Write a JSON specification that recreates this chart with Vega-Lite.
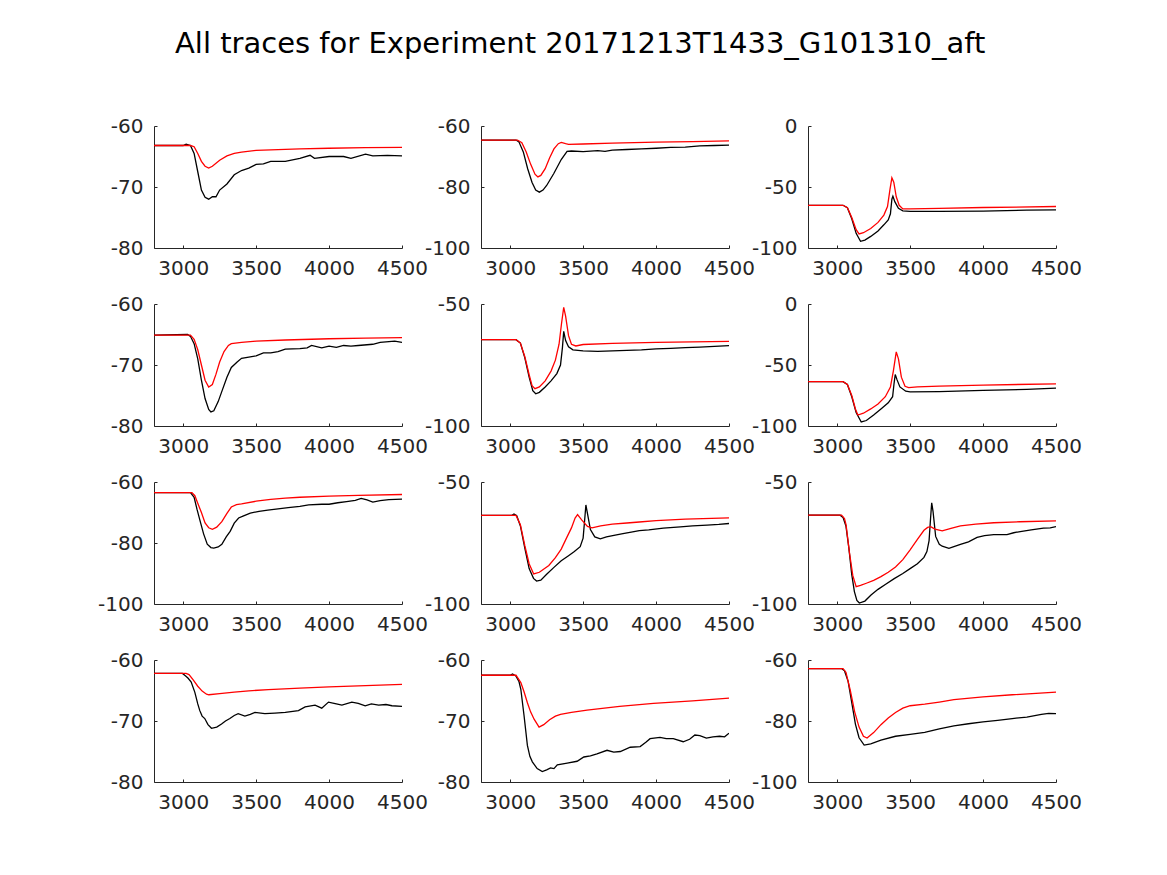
{
"$schema":"https://vega.github.io/schema/vega-lite/v6.json",
"background":"white",
"padding":{"left":97,"top":30,"right":5,"bottom":5},
"title":{"text":"All traces for Experiment 20171213T1433_G101310_aft","fontSize":29,"font":"DejaVu Sans","fontWeight":"normal","anchor":"start","frame":"group","dx":21,"offset":57,"color":"black"},
"columns":3,
"spacing":{"row":56,"column":79},
"bounds":"flush",
"data":{"values":[
{"p":1,"s":"e","x":2800,"y":-63.2},{"p":1,"s":"e","x":3000,"y":-63.2},{"p":1,"s":"e","x":3020,"y":-63.0},{"p":1,"s":"e","x":3050,"y":-63.2},{"p":1,"s":"e","x":3075,"y":-64.5},{"p":1,"s":"e","x":3100,"y":-67.5},{"p":1,"s":"e","x":3125,"y":-70.5},{"p":1,"s":"e","x":3150,"y":-71.7},{"p":1,"s":"e","x":3175,"y":-72.0},{"p":1,"s":"e","x":3200,"y":-71.6},{"p":1,"s":"e","x":3225,"y":-71.6},{"p":1,"s":"e","x":3250,"y":-70.5},{"p":1,"s":"e","x":3300,"y":-69.5},{"p":1,"s":"e","x":3350,"y":-68.0},{"p":1,"s":"e","x":3400,"y":-67.3},{"p":1,"s":"e","x":3450,"y":-66.9},{"p":1,"s":"e","x":3500,"y":-66.3},{"p":1,"s":"e","x":3550,"y":-66.2},{"p":1,"s":"e","x":3600,"y":-65.8},{"p":1,"s":"e","x":3700,"y":-65.8},{"p":1,"s":"e","x":3800,"y":-65.3},{"p":1,"s":"e","x":3870,"y":-64.8},{"p":1,"s":"e","x":3900,"y":-65.3},{"p":1,"s":"e","x":4000,"y":-65.0},{"p":1,"s":"e","x":4100,"y":-65.0},{"p":1,"s":"e","x":4150,"y":-65.3},{"p":1,"s":"e","x":4250,"y":-64.6},{"p":1,"s":"e","x":4300,"y":-64.9},{"p":1,"s":"e","x":4400,"y":-64.8},{"p":1,"s":"e","x":4500,"y":-64.9},
{"p":1,"s":"m","x":2800,"y":-63.2},{"p":1,"s":"m","x":3050,"y":-63.2},{"p":1,"s":"m","x":3075,"y":-63.4},{"p":1,"s":"m","x":3100,"y":-64.5},{"p":1,"s":"m","x":3125,"y":-65.8},{"p":1,"s":"m","x":3150,"y":-66.6},{"p":1,"s":"m","x":3175,"y":-66.9},{"p":1,"s":"m","x":3200,"y":-66.6},{"p":1,"s":"m","x":3250,"y":-65.6},{"p":1,"s":"m","x":3300,"y":-64.9},{"p":1,"s":"m","x":3350,"y":-64.5},{"p":1,"s":"m","x":3400,"y":-64.3},{"p":1,"s":"m","x":3500,"y":-64.0},{"p":1,"s":"m","x":3600,"y":-63.9},{"p":1,"s":"m","x":3800,"y":-63.75},{"p":1,"s":"m","x":4000,"y":-63.65},{"p":1,"s":"m","x":4250,"y":-63.55},{"p":1,"s":"m","x":4500,"y":-63.5},
{"p":2,"s":"e","x":2800,"y":-64.6},{"p":2,"s":"e","x":3040,"y":-64.6},{"p":2,"s":"e","x":3060,"y":-65.2},{"p":2,"s":"e","x":3090,"y":-68.5},{"p":2,"s":"e","x":3120,"y":-74},{"p":2,"s":"e","x":3150,"y":-78.5},{"p":2,"s":"e","x":3175,"y":-81},{"p":2,"s":"e","x":3200,"y":-81.7},{"p":2,"s":"e","x":3225,"y":-81.0},{"p":2,"s":"e","x":3250,"y":-79.5},{"p":2,"s":"e","x":3300,"y":-75.5},{"p":2,"s":"e","x":3350,"y":-71},{"p":2,"s":"e","x":3390,"y":-68.3},{"p":2,"s":"e","x":3420,"y":-68.2},{"p":2,"s":"e","x":3500,"y":-68.4},{"p":2,"s":"e","x":3600,"y":-68.1},{"p":2,"s":"e","x":3650,"y":-68.3},{"p":2,"s":"e","x":3700,"y":-67.9},{"p":2,"s":"e","x":3800,"y":-67.7},{"p":2,"s":"e","x":3900,"y":-67.5},{"p":2,"s":"e","x":4000,"y":-67.3},{"p":2,"s":"e","x":4100,"y":-67.0},{"p":2,"s":"e","x":4200,"y":-66.9},{"p":2,"s":"e","x":4300,"y":-66.5},{"p":2,"s":"e","x":4400,"y":-66.4},{"p":2,"s":"e","x":4500,"y":-66.3},
{"p":2,"s":"m","x":2800,"y":-64.6},{"p":2,"s":"m","x":3050,"y":-64.6},{"p":2,"s":"m","x":3080,"y":-65.5},{"p":2,"s":"m","x":3110,"y":-68.5},{"p":2,"s":"m","x":3140,"y":-72.5},{"p":2,"s":"m","x":3170,"y":-75.8},{"p":2,"s":"m","x":3190,"y":-76.7},{"p":2,"s":"m","x":3210,"y":-76.2},{"p":2,"s":"m","x":3240,"y":-74},{"p":2,"s":"m","x":3270,"y":-70.5},{"p":2,"s":"m","x":3300,"y":-67.5},{"p":2,"s":"m","x":3330,"y":-65.8},{"p":2,"s":"m","x":3350,"y":-65.4},{"p":2,"s":"m","x":3380,"y":-65.8},{"p":2,"s":"m","x":3400,"y":-66.0},{"p":2,"s":"m","x":3500,"y":-65.9},{"p":2,"s":"m","x":3700,"y":-65.6},{"p":2,"s":"m","x":4000,"y":-65.3},{"p":2,"s":"m","x":4250,"y":-65.1},{"p":2,"s":"m","x":4500,"y":-64.9},
{"p":3,"s":"e","x":2800,"y":-65},{"p":3,"s":"e","x":3040,"y":-65},{"p":3,"s":"e","x":3070,"y":-67},{"p":3,"s":"e","x":3100,"y":-76},{"p":3,"s":"e","x":3130,"y":-88},{"p":3,"s":"e","x":3160,"y":-94.5},{"p":3,"s":"e","x":3190,"y":-93.5},{"p":3,"s":"e","x":3230,"y":-90.5},{"p":3,"s":"e","x":3280,"y":-86},{"p":3,"s":"e","x":3320,"y":-81},{"p":3,"s":"e","x":3350,"y":-77},{"p":3,"s":"e","x":3365,"y":-72},{"p":3,"s":"e","x":3375,"y":-60},{"p":3,"s":"e","x":3382,"y":-57.5},{"p":3,"s":"e","x":3395,"y":-62},{"p":3,"s":"e","x":3420,"y":-67.5},{"p":3,"s":"e","x":3450,"y":-69.5},{"p":3,"s":"e","x":3500,"y":-70},{"p":3,"s":"e","x":3700,"y":-70},{"p":3,"s":"e","x":4000,"y":-69.8},{"p":3,"s":"e","x":4300,"y":-69},{"p":3,"s":"e","x":4500,"y":-68.8},
{"p":3,"s":"m","x":2800,"y":-65},{"p":3,"s":"m","x":3040,"y":-65},{"p":3,"s":"m","x":3070,"y":-67},{"p":3,"s":"m","x":3100,"y":-75},{"p":3,"s":"m","x":3130,"y":-85},{"p":3,"s":"m","x":3150,"y":-88.5},{"p":3,"s":"m","x":3180,"y":-87.5},{"p":3,"s":"m","x":3230,"y":-84},{"p":3,"s":"m","x":3280,"y":-79},{"p":3,"s":"m","x":3320,"y":-73},{"p":3,"s":"m","x":3345,"y":-66},{"p":3,"s":"m","x":3362,"y":-52},{"p":3,"s":"m","x":3375,"y":-42.5},{"p":3,"s":"m","x":3388,"y":-46},{"p":3,"s":"m","x":3405,"y":-58},{"p":3,"s":"m","x":3425,"y":-65},{"p":3,"s":"m","x":3450,"y":-68},{"p":3,"s":"m","x":3500,"y":-68},{"p":3,"s":"m","x":3700,"y":-67.5},{"p":3,"s":"m","x":4000,"y":-66.8},{"p":3,"s":"m","x":4500,"y":-66},
{"p":4,"s":"e","x":2800,"y":-65.1},{"p":4,"s":"e","x":3030,"y":-65.0},{"p":4,"s":"e","x":3050,"y":-65.3},{"p":4,"s":"e","x":3075,"y":-66.5},{"p":4,"s":"e","x":3100,"y":-69},{"p":4,"s":"e","x":3125,"y":-72.5},{"p":4,"s":"e","x":3150,"y":-75.5},{"p":4,"s":"e","x":3175,"y":-77.3},{"p":4,"s":"e","x":3190,"y":-77.7},{"p":4,"s":"e","x":3210,"y":-77.5},{"p":4,"s":"e","x":3240,"y":-76},{"p":4,"s":"e","x":3270,"y":-74},{"p":4,"s":"e","x":3300,"y":-72},{"p":4,"s":"e","x":3330,"y":-70.4},{"p":4,"s":"e","x":3370,"y":-69.5},{"p":4,"s":"e","x":3400,"y":-68.9},{"p":4,"s":"e","x":3450,"y":-68.7},{"p":4,"s":"e","x":3500,"y":-68.5},{"p":4,"s":"e","x":3550,"y":-68.0},{"p":4,"s":"e","x":3600,"y":-68.0},{"p":4,"s":"e","x":3650,"y":-67.8},{"p":4,"s":"e","x":3700,"y":-67.4},{"p":4,"s":"e","x":3800,"y":-67.3},{"p":4,"s":"e","x":3850,"y":-67.2},{"p":4,"s":"e","x":3880,"y":-66.8},{"p":4,"s":"e","x":3950,"y":-67.2},{"p":4,"s":"e","x":4000,"y":-66.9},{"p":4,"s":"e","x":4050,"y":-67.1},{"p":4,"s":"e","x":4100,"y":-66.8},{"p":4,"s":"e","x":4150,"y":-66.9},{"p":4,"s":"e","x":4200,"y":-66.8},{"p":4,"s":"e","x":4300,"y":-66.6},{"p":4,"s":"e","x":4350,"y":-66.3},{"p":4,"s":"e","x":4450,"y":-66.1},{"p":4,"s":"e","x":4500,"y":-66.3},
{"p":4,"s":"m","x":2800,"y":-65.1},{"p":4,"s":"m","x":3050,"y":-65.1},{"p":4,"s":"m","x":3075,"y":-65.8},{"p":4,"s":"m","x":3100,"y":-67.5},{"p":4,"s":"m","x":3125,"y":-70},{"p":4,"s":"m","x":3150,"y":-72.5},{"p":4,"s":"m","x":3175,"y":-73.6},{"p":4,"s":"m","x":3200,"y":-73.2},{"p":4,"s":"m","x":3225,"y":-71.5},{"p":4,"s":"m","x":3250,"y":-69.5},{"p":4,"s":"m","x":3280,"y":-67.8},{"p":4,"s":"m","x":3310,"y":-66.8},{"p":4,"s":"m","x":3330,"y":-66.5},{"p":4,"s":"m","x":3400,"y":-66.3},{"p":4,"s":"m","x":3500,"y":-66.1},{"p":4,"s":"m","x":3700,"y":-65.9},{"p":4,"s":"m","x":4000,"y":-65.7},{"p":4,"s":"m","x":4250,"y":-65.6},{"p":4,"s":"m","x":4500,"y":-65.5},
{"p":5,"s":"e","x":2800,"y":-64.6},{"p":5,"s":"e","x":3040,"y":-64.6},{"p":5,"s":"e","x":3070,"y":-66},{"p":5,"s":"e","x":3100,"y":-72},{"p":5,"s":"e","x":3130,"y":-80},{"p":5,"s":"e","x":3155,"y":-85.5},{"p":5,"s":"e","x":3175,"y":-86.8},{"p":5,"s":"e","x":3200,"y":-86.2},{"p":5,"s":"e","x":3240,"y":-84},{"p":5,"s":"e","x":3280,"y":-81.5},{"p":5,"s":"e","x":3320,"y":-78.5},{"p":5,"s":"e","x":3345,"y":-75},{"p":5,"s":"e","x":3358,"y":-68},{"p":5,"s":"e","x":3367,"y":-61.2},{"p":5,"s":"e","x":3380,"y":-65},{"p":5,"s":"e","x":3400,"y":-67.5},{"p":5,"s":"e","x":3430,"y":-68.8},{"p":5,"s":"e","x":3500,"y":-69.2},{"p":5,"s":"e","x":3600,"y":-69.4},{"p":5,"s":"e","x":3700,"y":-69.2},{"p":5,"s":"e","x":3800,"y":-69.0},{"p":5,"s":"e","x":3900,"y":-68.8},{"p":5,"s":"e","x":4000,"y":-68.4},{"p":5,"s":"e","x":4100,"y":-68.2},{"p":5,"s":"e","x":4200,"y":-67.9},{"p":5,"s":"e","x":4300,"y":-67.7},{"p":5,"s":"e","x":4400,"y":-67.4},{"p":5,"s":"e","x":4500,"y":-67.1},
{"p":5,"s":"m","x":2800,"y":-64.6},{"p":5,"s":"m","x":3040,"y":-64.6},{"p":5,"s":"m","x":3070,"y":-66},{"p":5,"s":"m","x":3100,"y":-71.5},{"p":5,"s":"m","x":3130,"y":-79},{"p":5,"s":"m","x":3150,"y":-83.5},{"p":5,"s":"m","x":3170,"y":-84.7},{"p":5,"s":"m","x":3200,"y":-84},{"p":5,"s":"m","x":3240,"y":-81.5},{"p":5,"s":"m","x":3280,"y":-77.5},{"p":5,"s":"m","x":3310,"y":-73},{"p":5,"s":"m","x":3335,"y":-66.5},{"p":5,"s":"m","x":3352,"y":-58},{"p":5,"s":"m","x":3367,"y":-51.4},{"p":5,"s":"m","x":3380,"y":-55},{"p":5,"s":"m","x":3400,"y":-63},{"p":5,"s":"m","x":3420,"y":-66.5},{"p":5,"s":"m","x":3450,"y":-67.2},{"p":5,"s":"m","x":3500,"y":-66.6},{"p":5,"s":"m","x":3700,"y":-66.1},{"p":5,"s":"m","x":4000,"y":-65.7},{"p":5,"s":"m","x":4250,"y":-65.5},{"p":5,"s":"m","x":4500,"y":-65.3},
{"p":6,"s":"e","x":2800,"y":-63.7},{"p":6,"s":"e","x":3040,"y":-63.7},{"p":6,"s":"e","x":3070,"y":-66},{"p":6,"s":"e","x":3100,"y":-76},{"p":6,"s":"e","x":3130,"y":-89},{"p":6,"s":"e","x":3165,"y":-96.7},{"p":6,"s":"e","x":3200,"y":-95.5},{"p":6,"s":"e","x":3250,"y":-91},{"p":6,"s":"e","x":3300,"y":-86},{"p":6,"s":"e","x":3350,"y":-81},{"p":6,"s":"e","x":3380,"y":-76},{"p":6,"s":"e","x":3390,"y":-65},{"p":6,"s":"e","x":3398,"y":-57.8},{"p":6,"s":"e","x":3410,"y":-62},{"p":6,"s":"e","x":3430,"y":-68},{"p":6,"s":"e","x":3470,"y":-71.5},{"p":6,"s":"e","x":3500,"y":-72},{"p":6,"s":"e","x":3700,"y":-71.8},{"p":6,"s":"e","x":4000,"y":-70.8},{"p":6,"s":"e","x":4300,"y":-70},{"p":6,"s":"e","x":4500,"y":-69},
{"p":6,"s":"m","x":2800,"y":-63.7},{"p":6,"s":"m","x":3040,"y":-63.7},{"p":6,"s":"m","x":3070,"y":-66},{"p":6,"s":"m","x":3100,"y":-75},{"p":6,"s":"m","x":3125,"y":-86},{"p":6,"s":"m","x":3142,"y":-91},{"p":6,"s":"m","x":3180,"y":-89.5},{"p":6,"s":"m","x":3230,"y":-86},{"p":6,"s":"m","x":3280,"y":-82},{"p":6,"s":"m","x":3330,"y":-76},{"p":6,"s":"m","x":3365,"y":-68},{"p":6,"s":"m","x":3385,"y":-55},{"p":6,"s":"m","x":3405,"y":-39.2},{"p":6,"s":"m","x":3420,"y":-45},{"p":6,"s":"m","x":3440,"y":-60},{"p":6,"s":"m","x":3465,"y":-67.5},{"p":6,"s":"m","x":3490,"y":-68.6},{"p":6,"s":"m","x":3550,"y":-68},{"p":6,"s":"m","x":3700,"y":-67.3},{"p":6,"s":"m","x":4000,"y":-66.5},{"p":6,"s":"m","x":4500,"y":-65.4},
{"p":7,"s":"e","x":2800,"y":-63.5},{"p":7,"s":"e","x":3050,"y":-63.5},{"p":7,"s":"e","x":3075,"y":-65},{"p":7,"s":"e","x":3095,"y":-69},{"p":7,"s":"e","x":3120,"y":-73.5},{"p":7,"s":"e","x":3140,"y":-77},{"p":7,"s":"e","x":3165,"y":-80.4},{"p":7,"s":"e","x":3190,"y":-81.5},{"p":7,"s":"e","x":3210,"y":-81.7},{"p":7,"s":"e","x":3240,"y":-81.3},{"p":7,"s":"e","x":3265,"y":-80.4},{"p":7,"s":"e","x":3295,"y":-78},{"p":7,"s":"e","x":3322,"y":-76.2},{"p":7,"s":"e","x":3350,"y":-73.5},{"p":7,"s":"e","x":3380,"y":-71.8},{"p":7,"s":"e","x":3410,"y":-71.2},{"p":7,"s":"e","x":3460,"y":-70.2},{"p":7,"s":"e","x":3520,"y":-69.6},{"p":7,"s":"e","x":3580,"y":-69.2},{"p":7,"s":"e","x":3650,"y":-68.8},{"p":7,"s":"e","x":3720,"y":-68.4},{"p":7,"s":"e","x":3800,"y":-68.0},{"p":7,"s":"e","x":3860,"y":-67.5},{"p":7,"s":"e","x":3950,"y":-67.3},{"p":7,"s":"e","x":4000,"y":-67.3},{"p":7,"s":"e","x":4060,"y":-66.8},{"p":7,"s":"e","x":4120,"y":-66.4},{"p":7,"s":"e","x":4180,"y":-66.0},{"p":7,"s":"e","x":4220,"y":-65.4},{"p":7,"s":"e","x":4260,"y":-65.9},{"p":7,"s":"e","x":4300,"y":-66.6},{"p":7,"s":"e","x":4350,"y":-66.1},{"p":7,"s":"e","x":4410,"y":-65.8},{"p":7,"s":"e","x":4500,"y":-65.6},
{"p":7,"s":"m","x":2800,"y":-63.5},{"p":7,"s":"m","x":3060,"y":-63.5},{"p":7,"s":"m","x":3080,"y":-64.5},{"p":7,"s":"m","x":3100,"y":-67},{"p":7,"s":"m","x":3125,"y":-70},{"p":7,"s":"m","x":3150,"y":-73.4},{"p":7,"s":"m","x":3175,"y":-75},{"p":7,"s":"m","x":3200,"y":-75.5},{"p":7,"s":"m","x":3230,"y":-74.8},{"p":7,"s":"m","x":3265,"y":-73},{"p":7,"s":"m","x":3300,"y":-70.3},{"p":7,"s":"m","x":3330,"y":-68.2},{"p":7,"s":"m","x":3365,"y":-67.4},{"p":7,"s":"m","x":3400,"y":-67.2},{"p":7,"s":"m","x":3500,"y":-66.3},{"p":7,"s":"m","x":3600,"y":-65.7},{"p":7,"s":"m","x":3700,"y":-65.3},{"p":7,"s":"m","x":3800,"y":-65},{"p":7,"s":"m","x":4000,"y":-64.6},{"p":7,"s":"m","x":4200,"y":-64.4},{"p":7,"s":"m","x":4500,"y":-64.1},
{"p":8,"s":"e","x":2800,"y":-63.7},{"p":8,"s":"e","x":3010,"y":-63.7},{"p":8,"s":"e","x":3026,"y":-63.1},{"p":8,"s":"e","x":3045,"y":-63.8},{"p":8,"s":"e","x":3070,"y":-68},{"p":8,"s":"e","x":3100,"y":-77},{"p":8,"s":"e","x":3130,"y":-85.5},{"p":8,"s":"e","x":3160,"y":-89.5},{"p":8,"s":"e","x":3181,"y":-90.6},{"p":8,"s":"e","x":3210,"y":-90.2},{"p":8,"s":"e","x":3250,"y":-87.8},{"p":8,"s":"e","x":3300,"y":-85},{"p":8,"s":"e","x":3350,"y":-82.3},{"p":8,"s":"e","x":3400,"y":-80.2},{"p":8,"s":"e","x":3440,"y":-78.5},{"p":8,"s":"e","x":3480,"y":-76.5},{"p":8,"s":"e","x":3500,"y":-73},{"p":8,"s":"e","x":3510,"y":-66},{"p":8,"s":"e","x":3519,"y":-59.4},{"p":8,"s":"e","x":3530,"y":-63},{"p":8,"s":"e","x":3550,"y":-69.5},{"p":8,"s":"e","x":3580,"y":-72.5},{"p":8,"s":"e","x":3618,"y":-73.3},{"p":8,"s":"e","x":3660,"y":-72.5},{"p":8,"s":"e","x":3720,"y":-71.8},{"p":8,"s":"e","x":3773,"y":-71.2},{"p":8,"s":"e","x":3830,"y":-70.5},{"p":8,"s":"e","x":3885,"y":-69.9},{"p":8,"s":"e","x":3950,"y":-69.6},{"p":8,"s":"e","x":4050,"y":-68.9},{"p":8,"s":"e","x":4167,"y":-68.4},{"p":8,"s":"e","x":4250,"y":-68.0},{"p":8,"s":"e","x":4350,"y":-67.7},{"p":8,"s":"e","x":4430,"y":-67.4},{"p":8,"s":"e","x":4500,"y":-67},
{"p":8,"s":"m","x":2800,"y":-63.7},{"p":8,"s":"m","x":3040,"y":-63.7},{"p":8,"s":"m","x":3070,"y":-67.5},{"p":8,"s":"m","x":3100,"y":-76},{"p":8,"s":"m","x":3130,"y":-83.5},{"p":8,"s":"m","x":3161,"y":-87.7},{"p":8,"s":"m","x":3200,"y":-87},{"p":8,"s":"m","x":3265,"y":-84.2},{"p":8,"s":"m","x":3310,"y":-81},{"p":8,"s":"m","x":3350,"y":-77.5},{"p":8,"s":"m","x":3390,"y":-72.5},{"p":8,"s":"m","x":3420,"y":-68.8},{"p":8,"s":"m","x":3445,"y":-64.8},{"p":8,"s":"m","x":3462,"y":-63.4},{"p":8,"s":"m","x":3490,"y":-65.5},{"p":8,"s":"m","x":3530,"y":-68.2},{"p":8,"s":"m","x":3561,"y":-68.8},{"p":8,"s":"m","x":3620,"y":-68},{"p":8,"s":"m","x":3700,"y":-67.3},{"p":8,"s":"m","x":3800,"y":-66.8},{"p":8,"s":"m","x":3885,"y":-66.4},{"p":8,"s":"m","x":4000,"y":-65.8},{"p":8,"s":"m","x":4200,"y":-65.2},{"p":8,"s":"m","x":4500,"y":-64.7},
{"p":9,"s":"e","x":2800,"y":-63.6},{"p":9,"s":"e","x":3020,"y":-63.6},{"p":9,"s":"e","x":3040,"y":-64.5},{"p":9,"s":"e","x":3060,"y":-68},{"p":9,"s":"e","x":3080,"y":-77},{"p":9,"s":"e","x":3100,"y":-88},{"p":9,"s":"e","x":3118,"y":-94.9},{"p":9,"s":"e","x":3135,"y":-98.5},{"p":9,"s":"e","x":3152,"y":-99.6},{"p":9,"s":"e","x":3190,"y":-98.8},{"p":9,"s":"e","x":3232,"y":-96.3},{"p":9,"s":"e","x":3280,"y":-94},{"p":9,"s":"e","x":3330,"y":-92},{"p":9,"s":"e","x":3391,"y":-89.6},{"p":9,"s":"e","x":3450,"y":-87.5},{"p":9,"s":"e","x":3505,"y":-85.3},{"p":9,"s":"e","x":3550,"y":-83.5},{"p":9,"s":"e","x":3595,"y":-80.9},{"p":9,"s":"e","x":3615,"y":-78.5},{"p":9,"s":"e","x":3630,"y":-74},{"p":9,"s":"e","x":3640,"y":-65},{"p":9,"s":"e","x":3648,"y":-58.5},{"p":9,"s":"e","x":3657,"y":-62},{"p":9,"s":"e","x":3675,"y":-72.3},{"p":9,"s":"e","x":3700,"y":-75.5},{"p":9,"s":"e","x":3720,"y":-76.3},{"p":9,"s":"e","x":3766,"y":-77.2},{"p":9,"s":"e","x":3800,"y":-76.5},{"p":9,"s":"e","x":3845,"y":-75.6},{"p":9,"s":"e","x":3900,"y":-74.5},{"p":9,"s":"e","x":3959,"y":-72.7},{"p":9,"s":"e","x":4010,"y":-72.0},{"p":9,"s":"e","x":4073,"y":-71.6},{"p":9,"s":"e","x":4164,"y":-71.6},{"p":9,"s":"e","x":4210,"y":-70.8},{"p":9,"s":"e","x":4255,"y":-70.3},{"p":9,"s":"e","x":4330,"y":-69.6},{"p":9,"s":"e","x":4414,"y":-68.9},{"p":9,"s":"e","x":4460,"y":-68.8},{"p":9,"s":"e","x":4500,"y":-68.3},
{"p":9,"s":"m","x":2800,"y":-63.6},{"p":9,"s":"m","x":3030,"y":-63.6},{"p":9,"s":"m","x":3050,"y":-65},{"p":9,"s":"m","x":3061,"y":-67.6},{"p":9,"s":"m","x":3084,"y":-78.9},{"p":9,"s":"m","x":3107,"y":-88.3},{"p":9,"s":"m","x":3130,"y":-92.9},{"p":9,"s":"m","x":3160,"y":-92.4},{"p":9,"s":"m","x":3200,"y":-91.5},{"p":9,"s":"m","x":3250,"y":-90.3},{"p":9,"s":"m","x":3300,"y":-88.8},{"p":9,"s":"m","x":3350,"y":-87},{"p":9,"s":"m","x":3400,"y":-84.8},{"p":9,"s":"m","x":3450,"y":-81.8},{"p":9,"s":"m","x":3500,"y":-77.8},{"p":9,"s":"m","x":3550,"y":-73.5},{"p":9,"s":"m","x":3595,"y":-69.8},{"p":9,"s":"m","x":3620,"y":-68.6},{"p":9,"s":"m","x":3641,"y":-68.3},{"p":9,"s":"m","x":3670,"y":-69.3},{"p":9,"s":"m","x":3720,"y":-70},{"p":9,"s":"m","x":3780,"y":-69},{"p":9,"s":"m","x":3845,"y":-68},{"p":9,"s":"m","x":3950,"y":-67.3},{"p":9,"s":"m","x":4073,"y":-66.7},{"p":9,"s":"m","x":4250,"y":-66.3},{"p":9,"s":"m","x":4500,"y":-65.9},
{"p":10,"s":"e","x":2800,"y":-62.2},{"p":10,"s":"e","x":2995,"y":-62.2},{"p":10,"s":"e","x":3015,"y":-62.6},{"p":10,"s":"e","x":3034,"y":-63.0},{"p":10,"s":"e","x":3055,"y":-63.6},{"p":10,"s":"e","x":3080,"y":-65.3},{"p":10,"s":"e","x":3100,"y":-67.2},{"p":10,"s":"e","x":3114,"y":-68.3},{"p":10,"s":"e","x":3130,"y":-69.2},{"p":10,"s":"e","x":3148,"y":-69.6},{"p":10,"s":"e","x":3170,"y":-70.6},{"p":10,"s":"e","x":3194,"y":-71.2},{"p":10,"s":"e","x":3230,"y":-71.0},{"p":10,"s":"e","x":3263,"y":-70.5},{"p":10,"s":"e","x":3290,"y":-70.0},{"p":10,"s":"e","x":3320,"y":-69.6},{"p":10,"s":"e","x":3350,"y":-69.1},{"p":10,"s":"e","x":3377,"y":-68.8},{"p":10,"s":"e","x":3423,"y":-69.2},{"p":10,"s":"e","x":3460,"y":-68.9},{"p":10,"s":"e","x":3492,"y":-68.6},{"p":10,"s":"e","x":3560,"y":-68.8},{"p":10,"s":"e","x":3629,"y":-68.7},{"p":10,"s":"e","x":3700,"y":-68.6},{"p":10,"s":"e","x":3790,"y":-68.3},{"p":10,"s":"e","x":3836,"y":-67.7},{"p":10,"s":"e","x":3904,"y":-67.4},{"p":10,"s":"e","x":3950,"y":-67.9},{"p":10,"s":"e","x":3996,"y":-66.9},{"p":10,"s":"e","x":4050,"y":-67.2},{"p":10,"s":"e","x":4088,"y":-67.4},{"p":10,"s":"e","x":4156,"y":-66.9},{"p":10,"s":"e","x":4200,"y":-67.1},{"p":10,"s":"e","x":4248,"y":-67.5},{"p":10,"s":"e","x":4290,"y":-67.2},{"p":10,"s":"e","x":4340,"y":-67.4},{"p":10,"s":"e","x":4390,"y":-67.3},{"p":10,"s":"e","x":4431,"y":-67.5},{"p":10,"s":"e","x":4500,"y":-67.6},
{"p":10,"s":"m","x":2800,"y":-62.2},{"p":10,"s":"m","x":3020,"y":-62.2},{"p":10,"s":"m","x":3040,"y":-62.4},{"p":10,"s":"m","x":3070,"y":-63.3},{"p":10,"s":"m","x":3100,"y":-64.3},{"p":10,"s":"m","x":3130,"y":-65.1},{"p":10,"s":"m","x":3160,"y":-65.6},{"p":10,"s":"m","x":3176,"y":-65.7},{"p":10,"s":"m","x":3250,"y":-65.5},{"p":10,"s":"m","x":3350,"y":-65.25},{"p":10,"s":"m","x":3450,"y":-65.05},{"p":10,"s":"m","x":3584,"y":-64.85},{"p":10,"s":"m","x":3800,"y":-64.6},{"p":10,"s":"m","x":4000,"y":-64.4},{"p":10,"s":"m","x":4250,"y":-64.2},{"p":10,"s":"m","x":4500,"y":-64.0},
{"p":11,"s":"e","x":2800,"y":-62.5},{"p":11,"s":"e","x":3000,"y":-62.5},{"p":11,"s":"e","x":3016,"y":-62.3},{"p":11,"s":"e","x":3039,"y":-62.6},{"p":11,"s":"e","x":3060,"y":-63.5},{"p":11,"s":"e","x":3073,"y":-64.8},{"p":11,"s":"e","x":3095,"y":-69.1},{"p":11,"s":"e","x":3118,"y":-74},{"p":11,"s":"e","x":3135,"y":-75.8},{"p":11,"s":"e","x":3152,"y":-76.7},{"p":11,"s":"e","x":3185,"y":-77.8},{"p":11,"s":"e","x":3220,"y":-78.3},{"p":11,"s":"e","x":3250,"y":-78.0},{"p":11,"s":"e","x":3277,"y":-77.7},{"p":11,"s":"e","x":3300,"y":-77.8},{"p":11,"s":"e","x":3323,"y":-77.2},{"p":11,"s":"e","x":3391,"y":-76.9},{"p":11,"s":"e","x":3459,"y":-76.6},{"p":11,"s":"e","x":3505,"y":-75.9},{"p":11,"s":"e","x":3550,"y":-75.7},{"p":11,"s":"e","x":3595,"y":-75.4},{"p":11,"s":"e","x":3664,"y":-74.8},{"p":11,"s":"e","x":3710,"y":-75.1},{"p":11,"s":"e","x":3755,"y":-75.0},{"p":11,"s":"e","x":3823,"y":-74.3},{"p":11,"s":"e","x":3891,"y":-74.2},{"p":11,"s":"e","x":3930,"y":-73.5},{"p":11,"s":"e","x":3959,"y":-72.9},{"p":11,"s":"e","x":4027,"y":-72.7},{"p":11,"s":"e","x":4070,"y":-72.9},{"p":11,"s":"e","x":4118,"y":-72.9},{"p":11,"s":"e","x":4186,"y":-73.4},{"p":11,"s":"e","x":4230,"y":-73.0},{"p":11,"s":"e","x":4266,"y":-72.3},{"p":11,"s":"e","x":4300,"y":-72.4},{"p":11,"s":"e","x":4345,"y":-72.8},{"p":11,"s":"e","x":4390,"y":-72.6},{"p":11,"s":"e","x":4436,"y":-72.5},{"p":11,"s":"e","x":4470,"y":-72.6},{"p":11,"s":"e","x":4500,"y":-72.0},
{"p":11,"s":"m","x":2800,"y":-62.5},{"p":11,"s":"m","x":3040,"y":-62.5},{"p":11,"s":"m","x":3073,"y":-63.7},{"p":11,"s":"m","x":3095,"y":-65.2},{"p":11,"s":"m","x":3118,"y":-67},{"p":11,"s":"m","x":3140,"y":-68.5},{"p":11,"s":"m","x":3164,"y":-69.7},{"p":11,"s":"m","x":3198,"y":-71.0},{"p":11,"s":"m","x":3230,"y":-70.6},{"p":11,"s":"m","x":3270,"y":-69.8},{"p":11,"s":"m","x":3310,"y":-69.2},{"p":11,"s":"m","x":3345,"y":-68.9},{"p":11,"s":"m","x":3420,"y":-68.6},{"p":11,"s":"m","x":3527,"y":-68.2},{"p":11,"s":"m","x":3750,"y":-67.6},{"p":11,"s":"m","x":3982,"y":-67.1},{"p":11,"s":"m","x":4250,"y":-66.7},{"p":11,"s":"m","x":4500,"y":-66.25},
{"p":12,"s":"e","x":2800,"y":-62.8},{"p":12,"s":"e","x":3030,"y":-62.8},{"p":12,"s":"e","x":3050,"y":-63.5},{"p":12,"s":"e","x":3075,"y":-67},{"p":12,"s":"e","x":3100,"y":-74},{"p":12,"s":"e","x":3125,"y":-81},{"p":12,"s":"e","x":3150,"y":-85.5},{"p":12,"s":"e","x":3185,"y":-87.9},{"p":12,"s":"e","x":3230,"y":-87.5},{"p":12,"s":"e","x":3300,"y":-86.3},{"p":12,"s":"e","x":3400,"y":-85.0},{"p":12,"s":"e","x":3500,"y":-84.4},{"p":12,"s":"e","x":3600,"y":-83.7},{"p":12,"s":"e","x":3700,"y":-82.6},{"p":12,"s":"e","x":3800,"y":-81.6},{"p":12,"s":"e","x":3900,"y":-80.9},{"p":12,"s":"e","x":4000,"y":-80.3},{"p":12,"s":"e","x":4100,"y":-79.8},{"p":12,"s":"e","x":4200,"y":-79.2},{"p":12,"s":"e","x":4300,"y":-78.7},{"p":12,"s":"e","x":4400,"y":-77.8},{"p":12,"s":"e","x":4450,"y":-77.5},{"p":12,"s":"e","x":4500,"y":-77.6},
{"p":12,"s":"m","x":2800,"y":-62.8},{"p":12,"s":"m","x":3040,"y":-62.8},{"p":12,"s":"m","x":3060,"y":-64},{"p":12,"s":"m","x":3090,"y":-70},{"p":12,"s":"m","x":3120,"y":-77},{"p":12,"s":"m","x":3150,"y":-82},{"p":12,"s":"m","x":3180,"y":-85},{"p":12,"s":"m","x":3205,"y":-85.6},{"p":12,"s":"m","x":3250,"y":-83.8},{"p":12,"s":"m","x":3300,"y":-81.2},{"p":12,"s":"m","x":3350,"y":-79},{"p":12,"s":"m","x":3400,"y":-77.2},{"p":12,"s":"m","x":3450,"y":-75.8},{"p":12,"s":"m","x":3500,"y":-75.0},{"p":12,"s":"m","x":3600,"y":-74.5},{"p":12,"s":"m","x":3700,"y":-73.8},{"p":12,"s":"m","x":3800,"y":-73.0},{"p":12,"s":"m","x":4000,"y":-72.1},{"p":12,"s":"m","x":4200,"y":-71.4},{"p":12,"s":"m","x":4500,"y":-70.5}
]},
"concat":[
{"width":248,"height":122,"transform":[{"filter":"datum.p==1"}],"mark":{"type":"line","strokeWidth":1.3,"clip":true},"encoding":{"x":{"field":"x","type":"quantitative","scale":{"domain":[2800,4500],"nice":false},"axis":{"title":null,"values":[3000,3500,4000,4500]}},"y":{"field":"y","type":"quantitative","scale":{"domain":[-80,-60],"nice":false,"zero":false},"axis":{"title":null,"values":[-80,-70,-60]}},"color":{"field":"s","type":"nominal","scale":{"domain":["e","m"],"range":["black","red"]},"legend":null},"order":{"field":"x","type":"quantitative"}}},
{"width":248,"height":122,"transform":[{"filter":"datum.p==2"}],"mark":{"type":"line","strokeWidth":1.3,"clip":true},"encoding":{"x":{"field":"x","type":"quantitative","scale":{"domain":[2800,4500],"nice":false},"axis":{"title":null,"values":[3000,3500,4000,4500]}},"y":{"field":"y","type":"quantitative","scale":{"domain":[-100,-60],"nice":false,"zero":false},"axis":{"title":null,"values":[-100,-80,-60]}},"color":{"field":"s","type":"nominal","scale":{"domain":["e","m"],"range":["black","red"]},"legend":null},"order":{"field":"x","type":"quantitative"}}},
{"width":248,"height":122,"transform":[{"filter":"datum.p==3"}],"mark":{"type":"line","strokeWidth":1.3,"clip":true},"encoding":{"x":{"field":"x","type":"quantitative","scale":{"domain":[2800,4500],"nice":false},"axis":{"title":null,"values":[3000,3500,4000,4500]}},"y":{"field":"y","type":"quantitative","scale":{"domain":[-100,0],"nice":false,"zero":false},"axis":{"title":null,"values":[-100,-50,0]}},"color":{"field":"s","type":"nominal","scale":{"domain":["e","m"],"range":["black","red"]},"legend":null},"order":{"field":"x","type":"quantitative"}}},
{"width":248,"height":122,"transform":[{"filter":"datum.p==4"}],"mark":{"type":"line","strokeWidth":1.3,"clip":true},"encoding":{"x":{"field":"x","type":"quantitative","scale":{"domain":[2800,4500],"nice":false},"axis":{"title":null,"values":[3000,3500,4000,4500]}},"y":{"field":"y","type":"quantitative","scale":{"domain":[-80,-60],"nice":false,"zero":false},"axis":{"title":null,"values":[-80,-70,-60]}},"color":{"field":"s","type":"nominal","scale":{"domain":["e","m"],"range":["black","red"]},"legend":null},"order":{"field":"x","type":"quantitative"}}},
{"width":248,"height":122,"transform":[{"filter":"datum.p==5"}],"mark":{"type":"line","strokeWidth":1.3,"clip":true},"encoding":{"x":{"field":"x","type":"quantitative","scale":{"domain":[2800,4500],"nice":false},"axis":{"title":null,"values":[3000,3500,4000,4500]}},"y":{"field":"y","type":"quantitative","scale":{"domain":[-100,-50],"nice":false,"zero":false},"axis":{"title":null,"values":[-100,-50]}},"color":{"field":"s","type":"nominal","scale":{"domain":["e","m"],"range":["black","red"]},"legend":null},"order":{"field":"x","type":"quantitative"}}},
{"width":248,"height":122,"transform":[{"filter":"datum.p==6"}],"mark":{"type":"line","strokeWidth":1.3,"clip":true},"encoding":{"x":{"field":"x","type":"quantitative","scale":{"domain":[2800,4500],"nice":false},"axis":{"title":null,"values":[3000,3500,4000,4500]}},"y":{"field":"y","type":"quantitative","scale":{"domain":[-100,0],"nice":false,"zero":false},"axis":{"title":null,"values":[-100,-50,0]}},"color":{"field":"s","type":"nominal","scale":{"domain":["e","m"],"range":["black","red"]},"legend":null},"order":{"field":"x","type":"quantitative"}}},
{"width":248,"height":122,"transform":[{"filter":"datum.p==7"}],"mark":{"type":"line","strokeWidth":1.3,"clip":true},"encoding":{"x":{"field":"x","type":"quantitative","scale":{"domain":[2800,4500],"nice":false},"axis":{"title":null,"values":[3000,3500,4000,4500]}},"y":{"field":"y","type":"quantitative","scale":{"domain":[-100,-60],"nice":false,"zero":false},"axis":{"title":null,"values":[-100,-80,-60]}},"color":{"field":"s","type":"nominal","scale":{"domain":["e","m"],"range":["black","red"]},"legend":null},"order":{"field":"x","type":"quantitative"}}},
{"width":248,"height":122,"transform":[{"filter":"datum.p==8"}],"mark":{"type":"line","strokeWidth":1.3,"clip":true},"encoding":{"x":{"field":"x","type":"quantitative","scale":{"domain":[2800,4500],"nice":false},"axis":{"title":null,"values":[3000,3500,4000,4500]}},"y":{"field":"y","type":"quantitative","scale":{"domain":[-100,-50],"nice":false,"zero":false},"axis":{"title":null,"values":[-100,-50]}},"color":{"field":"s","type":"nominal","scale":{"domain":["e","m"],"range":["black","red"]},"legend":null},"order":{"field":"x","type":"quantitative"}}},
{"width":248,"height":122,"transform":[{"filter":"datum.p==9"}],"mark":{"type":"line","strokeWidth":1.3,"clip":true},"encoding":{"x":{"field":"x","type":"quantitative","scale":{"domain":[2800,4500],"nice":false},"axis":{"title":null,"values":[3000,3500,4000,4500]}},"y":{"field":"y","type":"quantitative","scale":{"domain":[-100,-50],"nice":false,"zero":false},"axis":{"title":null,"values":[-100,-50]}},"color":{"field":"s","type":"nominal","scale":{"domain":["e","m"],"range":["black","red"]},"legend":null},"order":{"field":"x","type":"quantitative"}}},
{"width":248,"height":122,"transform":[{"filter":"datum.p==10"}],"mark":{"type":"line","strokeWidth":1.3,"clip":true},"encoding":{"x":{"field":"x","type":"quantitative","scale":{"domain":[2800,4500],"nice":false},"axis":{"title":null,"values":[3000,3500,4000,4500]}},"y":{"field":"y","type":"quantitative","scale":{"domain":[-80,-60],"nice":false,"zero":false},"axis":{"title":null,"values":[-80,-70,-60]}},"color":{"field":"s","type":"nominal","scale":{"domain":["e","m"],"range":["black","red"]},"legend":null},"order":{"field":"x","type":"quantitative"}}},
{"width":248,"height":122,"transform":[{"filter":"datum.p==11"}],"mark":{"type":"line","strokeWidth":1.3,"clip":true},"encoding":{"x":{"field":"x","type":"quantitative","scale":{"domain":[2800,4500],"nice":false},"axis":{"title":null,"values":[3000,3500,4000,4500]}},"y":{"field":"y","type":"quantitative","scale":{"domain":[-80,-60],"nice":false,"zero":false},"axis":{"title":null,"values":[-80,-70,-60]}},"color":{"field":"s","type":"nominal","scale":{"domain":["e","m"],"range":["black","red"]},"legend":null},"order":{"field":"x","type":"quantitative"}}},
{"width":248,"height":122,"transform":[{"filter":"datum.p==12"}],"mark":{"type":"line","strokeWidth":1.3,"clip":true},"encoding":{"x":{"field":"x","type":"quantitative","scale":{"domain":[2800,4500],"nice":false},"axis":{"title":null,"values":[3000,3500,4000,4500]}},"y":{"field":"y","type":"quantitative","scale":{"domain":[-100,-60],"nice":false,"zero":false},"axis":{"title":null,"values":[-100,-80,-60]}},"color":{"field":"s","type":"nominal","scale":{"domain":["e","m"],"range":["black","red"]},"legend":null},"order":{"field":"x","type":"quantitative"}}}
],
"config":{
"view":{"stroke":null},
"axis":{"grid":false,"domainColor":"#262626","domainWidth":1,"tickColor":"#262626","tickSize":-3,"labelColor":"#262626","labelFont":"DejaVu Sans","labelFontSize":20,"labelFlush":false,"labelOverlap":false,"labelBound":false,"labelExpr":"datum.value"},
"axisX":{"labelPadding":13},
"axisY":{"labelPadding":14}
}
}
